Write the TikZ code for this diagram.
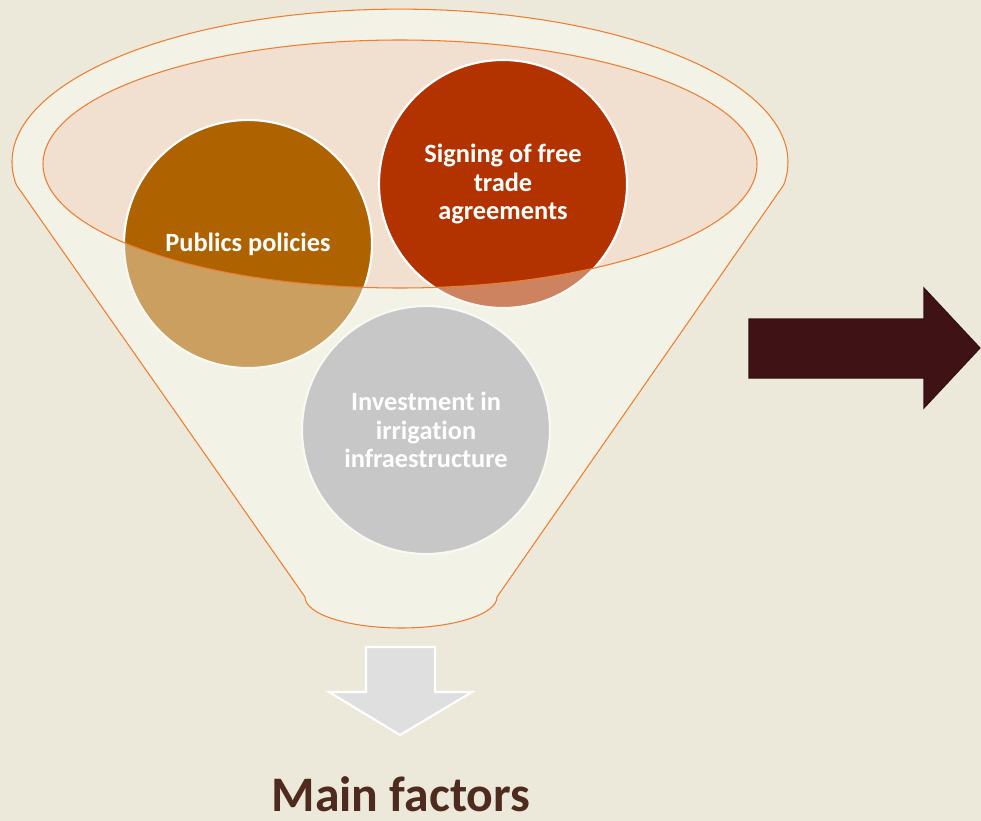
\documentclass[tikz,border=0pt]{standalone}
\usepackage{fontspec}
\setmainfont{Carlito}[Ligatures=CommonOff]
\usetikzlibrary{positioning}

\definecolor{paper}{HTML}{EDE9DA}
\definecolor{funnelbody}{HTML}{F3F2E7}
\definecolor{rimfill}{HTML}{F1DFD0}
\definecolor{rimline}{HTML}{ED7D31}
\definecolor{ochre}{HTML}{AE6300}
\definecolor{rust}{HTML}{B33300}
\definecolor{stone}{HTML}{A8A9B2}
\definecolor{maroon}{HTML}{3F1315}
\definecolor{cocoa}{HTML}{4E2A1F}

\tikzset{
  factor/.style={circle, draw=white, line width=1.2pt, minimum size=4.96cm, inner sep=0pt},
  factortext/.style={text=white, align=center, font=\bfseries\fontsize{15}{16.2}\selectfont},
  funneledge/.style={draw=rimline, line width=0.6pt},
}

\begin{document}
\begin{tikzpicture}[x=0.02cm, y=-0.02cm]
  \useasboundingbox (0,0) rectangle (981,821);
  \fill[paper] (0,0) rectangle (981,821);

  % funnel body and rim
  \fill[funnelbody] (16.4,185) arc[start angle=171.4, end angle=368.6, x radius=388, y radius=153]
    -- (497,597) arc[start angle=0, end angle=180, x radius=96, y radius=31] -- cycle;
  \fill[rimfill] (400,164) ellipse[x radius=357, y radius=124];

  % the three factors
  \node[factor, fill=ochre] (pp)  at (248,244) {};
  \node[factor, fill=rust]  (fta) at (503,184) {};
  \node[factor, fill=stone] (inv) at (426,430) {};

  % body drawn again over the circles, rim left open
  \fill[funnelbody, opacity=0.42, even odd rule]
    (16.4,185) arc[start angle=171.4, end angle=368.6, x radius=388, y radius=153]
    -- (497,597) arc[start angle=0, end angle=180, x radius=96, y radius=31] -- cycle
    (400,164) ellipse[x radius=357, y radius=124];
  \draw[funneledge] (16.4,185) arc[start angle=171.4, end angle=368.6, x radius=388, y radius=153]
    -- (497,597) arc[start angle=0, end angle=180, x radius=96, y radius=31] -- cycle;
  \draw[funneledge] (400,164) ellipse[x radius=357, y radius=124];

  \node[factortext] at (pp)  {Publics policies};
  \node[factortext] at (fta) {Signing of free\\trade\\agreements};
  \node[factortext] at (inv) {Investment in\\irrigation\\infraestructure};

  % arrows
  \fill[fill=gray!25, draw=white, line width=1.2pt]
    (366,647) -- (435,647) -- (435,692) -- (472,692) -- (400,735) -- (329,692) -- (366,692) -- cycle;
  \fill[fill=maroon, draw=maroon!80!black, line width=0.6pt]
    (749,319) -- (924,319) -- (924,288) -- (980,348) -- (924,408) -- (924,378) -- (749,378) -- cycle;

  \node[text=cocoa, font=\bfseries\fontsize{28.3}{34}\selectfont, anchor=base, inner sep=0pt] (main) at (401,811) {Main factors};
\end{tikzpicture}
\end{document}
